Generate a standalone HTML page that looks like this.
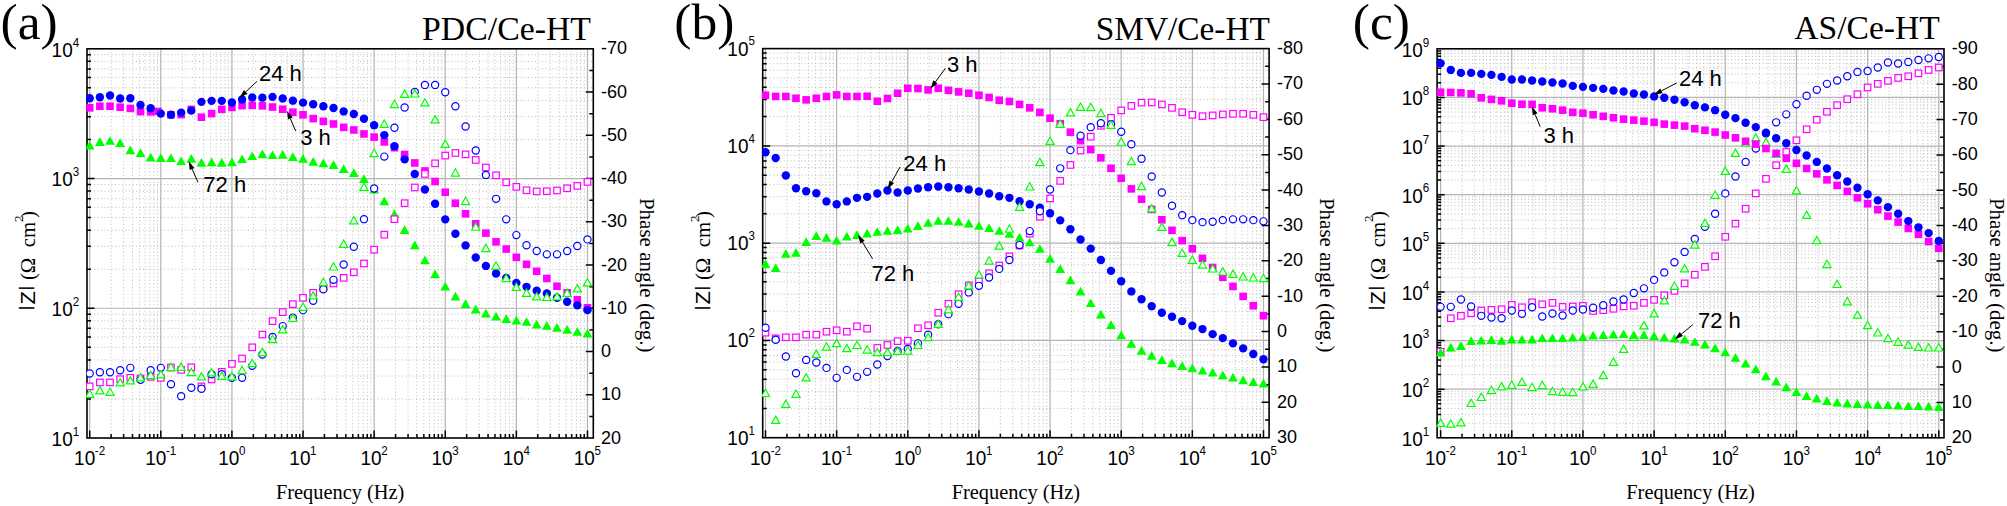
<!DOCTYPE html>
<html><head><meta charset="utf-8"><title>Bode plots</title>
<style>html,body{margin:0;padding:0;background:#fff}svg{display:block}text{white-space:pre}</style>
</head><body>
<svg width="2007" height="506" viewBox="0 0 2007 506">
<rect width="2007" height="506" fill="#fff"/>
<g>
<path d="M111.11 48.8V438M123.63 48.8V438M132.51 48.8V438M139.4 48.8V438M145.03 48.8V438M149.79 48.8V438M153.92 48.8V438M157.56 48.8V438M182.22 48.8V438M194.74 48.8V438M203.62 48.8V438M210.51 48.8V438M216.14 48.8V438M220.9 48.8V438M225.03 48.8V438M228.67 48.8V438M253.33 48.8V438M265.85 48.8V438M274.73 48.8V438M281.62 48.8V438M287.25 48.8V438M292.01 48.8V438M296.14 48.8V438M299.78 48.8V438M324.44 48.8V438M336.96 48.8V438M345.84 48.8V438M352.73 48.8V438M358.36 48.8V438M363.12 48.8V438M367.25 48.8V438M370.89 48.8V438M395.55 48.8V438M408.07 48.8V438M416.95 48.8V438M423.84 48.8V438M429.47 48.8V438M434.23 48.8V438M438.36 48.8V438M442 48.8V438M466.66 48.8V438M479.18 48.8V438M488.06 48.8V438M494.95 48.8V438M500.58 48.8V438M505.34 48.8V438M509.47 48.8V438M513.11 48.8V438M537.77 48.8V438M550.29 48.8V438M559.17 48.8V438M566.06 48.8V438M571.69 48.8V438M576.45 48.8V438M580.58 48.8V438M584.22 48.8V438M87 398.95H593.3M87 376.1H593.3M87 359.89H593.3M87 347.32H593.3M87 337.05H593.3M87 328.36H593.3M87 320.84H593.3M87 314.2H593.3M87 269.21H593.3M87 246.37H593.3M87 230.16H593.3M87 217.59H593.3M87 207.31H593.3M87 198.63H593.3M87 191.11H593.3M87 184.47H593.3M87 139.48H593.3M87 116.63H593.3M87 100.43H593.3M87 87.85H593.3M87 77.58H593.3M87 68.9H593.3M87 61.37H593.3M87 54.74H593.3" stroke="#bcbcbc" stroke-width="1" stroke-dasharray="1 2.5" fill="none"/>
<path d="M89.7 48.8V438M160.81 48.8V438M231.92 48.8V438M303.03 48.8V438M374.14 48.8V438M445.25 48.8V438M516.36 48.8V438M587.47 48.8V438M87 308.27H593.3M87 178.53H593.3" stroke="#b4b4b4" stroke-width="1.2" fill="none"/>
<path d="M89.7 438v-7.5M111.11 438v-4M123.63 438v-4M132.51 438v-4M139.4 438v-4M145.03 438v-4M149.79 438v-4M153.92 438v-4M157.56 438v-4M160.81 438v-7.5M182.22 438v-4M194.74 438v-4M203.62 438v-4M210.51 438v-4M216.14 438v-4M220.9 438v-4M225.03 438v-4M228.67 438v-4M231.92 438v-7.5M253.33 438v-4M265.85 438v-4M274.73 438v-4M281.62 438v-4M287.25 438v-4M292.01 438v-4M296.14 438v-4M299.78 438v-4M303.03 438v-7.5M324.44 438v-4M336.96 438v-4M345.84 438v-4M352.73 438v-4M358.36 438v-4M363.12 438v-4M367.25 438v-4M370.89 438v-4M374.14 438v-7.5M395.55 438v-4M408.07 438v-4M416.95 438v-4M423.84 438v-4M429.47 438v-4M434.23 438v-4M438.36 438v-4M442 438v-4M445.25 438v-7.5M466.66 438v-4M479.18 438v-4M488.06 438v-4M494.95 438v-4M500.58 438v-4M505.34 438v-4M509.47 438v-4M513.11 438v-4M516.36 438v-7.5M537.77 438v-4M550.29 438v-4M559.17 438v-4M566.06 438v-4M571.69 438v-4M576.45 438v-4M580.58 438v-4M584.22 438v-4M587.47 438v-7.5M87 398.95h4M87 376.1h4M87 359.89h4M87 347.32h4M87 337.05h4M87 328.36h4M87 320.84h4M87 314.2h4M87 308.27h7.5M87 269.21h4M87 246.37h4M87 230.16h4M87 217.59h4M87 207.31h4M87 198.63h4M87 191.11h4M87 184.47h4M87 178.53h7.5M87 139.48h4M87 116.63h4M87 100.43h4M87 87.85h4M87 77.58h4M87 68.9h4M87 61.37h4M87 54.74h4M593.3 70.42h-4M593.3 92.04h-7.5M593.3 113.67h-4M593.3 135.29h-7.5M593.3 156.91h-4M593.3 178.53h-7.5M593.3 200.16h-4M593.3 221.78h-7.5M593.3 243.4h-4M593.3 265.02h-7.5M593.3 286.64h-4M593.3 308.27h-7.5M593.3 329.89h-4M593.3 351.51h-7.5M593.3 373.13h-4M593.3 394.76h-7.5M593.3 416.38h-4" stroke="#000" stroke-width="1.5" fill="none"/>
<rect x="87" y="48.8" width="506.3" height="389.2" fill="none" stroke="#000" stroke-width="1.6"/>
<clipPath id="clipa"><rect x="86.2" y="48" width="507.9" height="390.8"/></clipPath>
<g clip-path="url(#clipa)">
<g fill="#ff00ff" stroke="none"><rect x="85.9" y="104.03" width="7.6" height="7.6"/><rect x="96.06" y="102.44" width="7.6" height="7.6"/><rect x="106.22" y="102.44" width="7.6" height="7.6"/><rect x="116.38" y="103.43" width="7.6" height="7.6"/><rect x="126.53" y="104.63" width="7.6" height="7.6"/><rect x="136.69" y="107.82" width="7.6" height="7.6"/><rect x="146.85" y="108.02" width="7.6" height="7.6"/><rect x="154.21" y="107.62" width="7.6" height="7.6"/><rect x="167.17" y="111.01" width="7.6" height="7.6"/><rect x="177.33" y="110.81" width="7.6" height="7.6"/><rect x="187.49" y="105.63" width="7.6" height="7.6"/><rect x="197.64" y="113.4" width="7.6" height="7.6"/><rect x="207.8" y="109.81" width="7.6" height="7.6"/><rect x="217.96" y="105.63" width="7.6" height="7.6"/><rect x="228.12" y="103.63" width="7.6" height="7.6"/><rect x="238.28" y="101.84" width="7.6" height="7.6"/><rect x="248.44" y="101.64" width="7.6" height="7.6"/><rect x="258.6" y="102.04" width="7.6" height="7.6"/><rect x="268.75" y="103.24" width="7.6" height="7.6"/><rect x="278.91" y="105.43" width="7.6" height="7.6"/><rect x="289.07" y="108.42" width="7.6" height="7.6"/><rect x="299.23" y="111.01" width="7.6" height="7.6"/><rect x="309.39" y="114.79" width="7.6" height="7.6"/><rect x="319.55" y="117.59" width="7.6" height="7.6"/><rect x="329.71" y="120.18" width="7.6" height="7.6"/><rect x="339.86" y="123.56" width="7.6" height="7.6"/><rect x="350.02" y="126.16" width="7.6" height="7.6"/><rect x="360.18" y="130.14" width="7.6" height="7.6"/><rect x="370.34" y="133.33" width="7.6" height="7.6"/><rect x="380.5" y="138.11" width="7.6" height="7.6"/><rect x="390.66" y="143.89" width="7.6" height="7.6"/><rect x="400.82" y="150.73" width="7.6" height="7.6"/><rect x="410.97" y="159.15" width="7.6" height="7.6"/><rect x="421.13" y="167.13" width="7.6" height="7.6"/><rect x="431.29" y="177.69" width="7.6" height="7.6"/><rect x="441.45" y="188.45" width="7.6" height="7.6"/><rect x="451.61" y="199.41" width="7.6" height="7.6"/><rect x="461.77" y="209.98" width="7.6" height="7.6"/><rect x="471.93" y="219.94" width="7.6" height="7.6"/><rect x="482.08" y="229.31" width="7.6" height="7.6"/><rect x="492.24" y="238.04" width="7.6" height="7.6"/><rect x="502.4" y="245.21" width="7.6" height="7.6"/><rect x="512.56" y="253.54" width="7.6" height="7.6"/><rect x="522.72" y="260.51" width="7.6" height="7.6"/><rect x="532.88" y="267.49" width="7.6" height="7.6"/><rect x="543.04" y="274.67" width="7.6" height="7.6"/><rect x="553.19" y="282.44" width="7.6" height="7.6"/><rect x="563.35" y="289.02" width="7.6" height="7.6"/><rect x="573.51" y="295.99" width="7.6" height="7.6"/><rect x="583.67" y="303.96" width="7.6" height="7.6"/></g>
<g fill="#0000ff" stroke="none"><circle cx="89.7" cy="98.27" r="4.2"/><circle cx="99.86" cy="97.27" r="4.2"/><circle cx="110.02" cy="95.48" r="4.2"/><circle cx="120.18" cy="98.47" r="4.2"/><circle cx="130.33" cy="98.27" r="4.2"/><circle cx="140.49" cy="105.04" r="4.2"/><circle cx="150.65" cy="108.23" r="4.2"/><circle cx="160.81" cy="113.61" r="4.2"/><circle cx="170.97" cy="114.81" r="4.2"/><circle cx="181.13" cy="112.62" r="4.2"/><circle cx="191.29" cy="110.62" r="4.2"/><circle cx="201.44" cy="101.85" r="4.2"/><circle cx="211.6" cy="100.86" r="4.2"/><circle cx="221.76" cy="100.86" r="4.2"/><circle cx="231.92" cy="102.45" r="4.2"/><circle cx="242.08" cy="99.46" r="4.2"/><circle cx="252.24" cy="97.47" r="4.2"/><circle cx="262.4" cy="97.67" r="4.2"/><circle cx="272.55" cy="96.87" r="4.2"/><circle cx="282.71" cy="98.47" r="4.2"/><circle cx="292.87" cy="100.66" r="4.2"/><circle cx="303.03" cy="102.65" r="4.2"/><circle cx="313.19" cy="104.25" r="4.2"/><circle cx="323.35" cy="106.24" r="4.2"/><circle cx="333.51" cy="108.03" r="4.2"/><circle cx="343.66" cy="111.42" r="4.2"/><circle cx="353.82" cy="114.01" r="4.2"/><circle cx="363.98" cy="118.79" r="4.2"/><circle cx="374.14" cy="125.17" r="4.2"/><circle cx="384.3" cy="135.14" r="4.2"/><circle cx="394.46" cy="146.3" r="4.2"/><circle cx="404.62" cy="159.37" r="4.2"/><circle cx="414.77" cy="173.92" r="4.2"/><circle cx="424.93" cy="189.46" r="4.2"/><circle cx="435.09" cy="203.81" r="4.2"/><circle cx="445.25" cy="219.36" r="4.2"/><circle cx="455.41" cy="233.71" r="4.2"/><circle cx="465.57" cy="245.42" r="4.2"/><circle cx="475.73" cy="257.54" r="4.2"/><circle cx="485.88" cy="265.91" r="4.2"/><circle cx="496.04" cy="273.48" r="4.2"/><circle cx="506.2" cy="277.87" r="4.2"/><circle cx="516.36" cy="282.85" r="4.2"/><circle cx="526.52" cy="286.84" r="4.2"/><circle cx="536.68" cy="290.82" r="4.2"/><circle cx="546.84" cy="293.41" r="4.2"/><circle cx="556.99" cy="297.8" r="4.2"/><circle cx="567.15" cy="301.78" r="4.2"/><circle cx="577.31" cy="305.37" r="4.2"/><circle cx="587.47" cy="310.15" r="4.2"/></g>
<g fill="#00ff00" stroke="none"><path d="M89.7 140.71l4.9 8.7h-9.8z"/><path d="M99.86 137.33l4.9 8.7h-9.8z"/><path d="M110.02 136.13l4.9 8.7h-9.8z"/><path d="M120.18 138.32l4.9 8.7h-9.8z"/><path d="M130.33 145.56l4.9 8.7h-9.8z"/><path d="M140.49 148.25l4.9 8.7h-9.8z"/><path d="M150.65 152.73l4.9 8.7h-9.8z"/><path d="M160.81 153.33l4.9 8.7h-9.8z"/><path d="M170.97 153.39l4.9 8.7h-9.8z"/><path d="M181.13 156.38l4.9 8.7h-9.8z"/><path d="M191.29 153.98l4.9 8.7h-9.8z"/><path d="M201.44 157.97l4.9 8.7h-9.8z"/><path d="M211.6 157.57l4.9 8.7h-9.8z"/><path d="M221.76 157.97l4.9 8.7h-9.8z"/><path d="M231.92 157.57l4.9 8.7h-9.8z"/><path d="M242.08 154.38l4.9 8.7h-9.8z"/><path d="M252.24 151.39l4.9 8.7h-9.8z"/><path d="M262.4 149.6l4.9 8.7h-9.8z"/><path d="M272.55 150.4l4.9 8.7h-9.8z"/><path d="M282.71 150l4.9 8.7h-9.8z"/><path d="M292.87 152.19l4.9 8.7h-9.8z"/><path d="M303.03 153.98l4.9 8.7h-9.8z"/><path d="M313.19 156.97l4.9 8.7h-9.8z"/><path d="M323.35 158.57l4.9 8.7h-9.8z"/><path d="M333.51 160.36l4.9 8.7h-9.8z"/><path d="M343.66 164.35l4.9 8.7h-9.8z"/><path d="M353.82 168.33l4.9 8.7h-9.8z"/><path d="M363.98 174.31l4.9 8.7h-9.8z"/><path d="M374.14 184.88l4.9 8.7h-9.8z"/><path d="M384.3 196.43l4.9 8.7h-9.8z"/><path d="M394.46 209.19l4.9 8.7h-9.8z"/><path d="M404.62 225.33l4.9 8.7h-9.8z"/><path d="M414.77 240.44l4.9 8.7h-9.8z"/><path d="M424.93 255.54l4.9 8.7h-9.8z"/><path d="M435.09 269.49l4.9 8.7h-9.8z"/><path d="M445.25 281.85l4.9 8.7h-9.8z"/><path d="M455.41 291.82l4.9 8.7h-9.8z"/><path d="M465.57 299.19l4.9 8.7h-9.8z"/><path d="M475.73 304.77l4.9 8.7h-9.8z"/><path d="M485.88 308.76l4.9 8.7h-9.8z"/><path d="M496.04 311.75l4.9 8.7h-9.8z"/><path d="M506.2 314.34l4.9 8.7h-9.8z"/><path d="M516.36 315.73l4.9 8.7h-9.8z"/><path d="M526.52 317.13l4.9 8.7h-9.8z"/><path d="M536.68 319.72l4.9 8.7h-9.8z"/><path d="M546.84 321.11l4.9 8.7h-9.8z"/><path d="M556.99 323.11l4.9 8.7h-9.8z"/><path d="M567.15 325.1l4.9 8.7h-9.8z"/><path d="M577.31 327.09l4.9 8.7h-9.8z"/><path d="M587.47 328.69l4.9 8.7h-9.8z"/></g>
<g fill="#fff" stroke="#ff00ff" stroke-width="1.2"><rect x="86.45" y="383.15" width="6.5" height="6.5"/><rect x="96.61" y="379.17" width="6.5" height="6.5"/><rect x="106.77" y="379.17" width="6.5" height="6.5"/><rect x="116.93" y="375.98" width="6.5" height="6.5"/><rect x="127.08" y="374.58" width="6.5" height="6.5"/><rect x="137.24" y="375.18" width="6.5" height="6.5"/><rect x="147.4" y="373.59" width="6.5" height="6.5"/><rect x="157.56" y="374.58" width="6.5" height="6.5"/><rect x="167.72" y="364.22" width="6.5" height="6.5"/><rect x="177.88" y="366.61" width="6.5" height="6.5"/><rect x="188.04" y="364.02" width="6.5" height="6.5"/><rect x="198.19" y="383.15" width="6.5" height="6.5"/><rect x="208.35" y="376.18" width="6.5" height="6.5"/><rect x="218.51" y="368.6" width="6.5" height="6.5"/><rect x="228.67" y="360.63" width="6.5" height="6.5"/><rect x="238.83" y="355.25" width="6.5" height="6.5"/><rect x="248.99" y="344.09" width="6.5" height="6.5"/><rect x="259.15" y="331.28" width="6.5" height="6.5"/><rect x="269.3" y="317.87" width="6.5" height="6.5"/><rect x="279.46" y="308.9" width="6.5" height="6.5"/><rect x="289.62" y="300.93" width="6.5" height="6.5"/><rect x="299.78" y="294.55" width="6.5" height="6.5"/><rect x="309.94" y="289.57" width="6.5" height="6.5"/><rect x="320.1" y="284.58" width="6.5" height="6.5"/><rect x="330.26" y="280.2" width="6.5" height="6.5"/><rect x="340.41" y="274.62" width="6.5" height="6.5"/><rect x="350.57" y="269.04" width="6.5" height="6.5"/><rect x="360.73" y="260.27" width="6.5" height="6.5"/><rect x="370.89" y="246.46" width="6.5" height="6.5"/><rect x="381.05" y="231.45" width="6.5" height="6.5"/><rect x="391.21" y="215.91" width="6.5" height="6.5"/><rect x="401.37" y="199.96" width="6.5" height="6.5"/><rect x="411.52" y="184.22" width="6.5" height="6.5"/><rect x="421.68" y="170.67" width="6.5" height="6.5"/><rect x="431.84" y="160.1" width="6.5" height="6.5"/><rect x="442" y="152.33" width="6.5" height="6.5"/><rect x="452.16" y="149.74" width="6.5" height="6.5"/><rect x="462.32" y="151.13" width="6.5" height="6.5"/><rect x="472.48" y="156.72" width="6.5" height="6.5"/><rect x="482.63" y="164.29" width="6.5" height="6.5"/><rect x="492.79" y="172.06" width="6.5" height="6.5"/><rect x="502.95" y="179.04" width="6.5" height="6.5"/><rect x="513.11" y="183.62" width="6.5" height="6.5"/><rect x="523.27" y="187.01" width="6.5" height="6.5"/><rect x="533.43" y="188.2" width="6.5" height="6.5"/><rect x="543.59" y="188.01" width="6.5" height="6.5"/><rect x="553.74" y="187.21" width="6.5" height="6.5"/><rect x="563.9" y="185.02" width="6.5" height="6.5"/><rect x="574.06" y="182.62" width="6.5" height="6.5"/><rect x="584.22" y="178.64" width="6.5" height="6.5"/></g>
<g fill="#fff" stroke="#0000ff" stroke-width="1.2"><circle cx="89.7" cy="373.45" r="3.6"/><circle cx="99.86" cy="372.25" r="3.6"/><circle cx="110.02" cy="372.25" r="3.6"/><circle cx="120.18" cy="370.26" r="3.6"/><circle cx="130.33" cy="367.87" r="3.6"/><circle cx="140.49" cy="379.83" r="3.6"/><circle cx="150.65" cy="370.26" r="3.6"/><circle cx="160.81" cy="367.87" r="3.6"/><circle cx="170.97" cy="384.21" r="3.6"/><circle cx="181.13" cy="396.17" r="3.6"/><circle cx="191.29" cy="387.8" r="3.6"/><circle cx="201.44" cy="388.79" r="3.6"/><circle cx="211.6" cy="374.25" r="3.6"/><circle cx="221.76" cy="374.25" r="3.6"/><circle cx="231.92" cy="377.83" r="3.6"/><circle cx="242.08" cy="377.83" r="3.6"/><circle cx="252.24" cy="365.87" r="3.6"/><circle cx="262.4" cy="354.51" r="3.6"/><circle cx="272.55" cy="337.02" r="3.6"/><circle cx="282.71" cy="326.1" r="3.6"/><circle cx="292.87" cy="317.73" r="3.6"/><circle cx="303.03" cy="310.15" r="3.6"/><circle cx="313.19" cy="300.79" r="3.6"/><circle cx="323.35" cy="289.23" r="3.6"/><circle cx="333.51" cy="279.86" r="3.6"/><circle cx="343.66" cy="264.51" r="3.6"/><circle cx="353.82" cy="246.82" r="3.6"/><circle cx="363.98" cy="219.16" r="3.6"/><circle cx="374.14" cy="188.47" r="3.6"/><circle cx="384.3" cy="156.62" r="3.6"/><circle cx="394.46" cy="127.76" r="3.6"/><circle cx="404.62" cy="107.43" r="3.6"/><circle cx="414.77" cy="91.89" r="3.6"/><circle cx="424.93" cy="84.91" r="3.6"/><circle cx="435.09" cy="84.91" r="3.6"/><circle cx="445.25" cy="92.29" r="3.6"/><circle cx="455.41" cy="106.24" r="3.6"/><circle cx="465.57" cy="126.57" r="3.6"/><circle cx="475.73" cy="150.54" r="3.6"/><circle cx="485.88" cy="174.91" r="3.6"/><circle cx="496.04" cy="198.83" r="3.6"/><circle cx="506.2" cy="219.36" r="3.6"/><circle cx="516.36" cy="235.1" r="3.6"/><circle cx="526.52" cy="245.22" r="3.6"/><circle cx="536.68" cy="251" r="3.6"/><circle cx="546.84" cy="254.35" r="3.6"/><circle cx="556.99" cy="254.35" r="3.6"/><circle cx="567.15" cy="250.96" r="3.6"/><circle cx="577.31" cy="245.98" r="3.6"/><circle cx="587.47" cy="239.4" r="3.6"/></g>
<g fill="#fff" stroke="#00ff00" stroke-width="1.2"><path d="M89.7 389.99l4.1 7.3h-8.2z"/><path d="M99.86 386.6l4.1 7.3h-8.2z"/><path d="M110.02 388l4.1 7.3h-8.2z"/><path d="M120.18 378.63l4.1 7.3h-8.2z"/><path d="M130.33 376.64l4.1 7.3h-8.2z"/><path d="M140.49 373.65l4.1 7.3h-8.2z"/><path d="M150.65 371.26l4.1 7.3h-8.2z"/><path d="M160.81 370.66l4.1 7.3h-8.2z"/><path d="M170.97 363.29l4.1 7.3h-8.2z"/><path d="M181.13 363.09l4.1 7.3h-8.2z"/><path d="M191.29 368.27l4.1 7.3h-8.2z"/><path d="M201.44 372.65l4.1 7.3h-8.2z"/><path d="M211.6 368.67l4.1 7.3h-8.2z"/><path d="M221.76 372.06l4.1 7.3h-8.2z"/><path d="M231.92 372.65l4.1 7.3h-8.2z"/><path d="M242.08 366.28l4.1 7.3h-8.2z"/><path d="M252.24 359.3l4.1 7.3h-8.2z"/><path d="M262.4 348.34l4.1 7.3h-8.2z"/><path d="M272.55 335.33l4.1 7.3h-8.2z"/><path d="M282.71 325.66l4.1 7.3h-8.2z"/><path d="M292.87 313.94l4.1 7.3h-8.2z"/><path d="M303.03 302.98l4.1 7.3h-8.2z"/><path d="M313.19 291.62l4.1 7.3h-8.2z"/><path d="M323.35 278.27l4.1 7.3h-8.2z"/><path d="M333.51 262.72l4.1 7.3h-8.2z"/><path d="M343.66 240.04l4.1 7.3h-8.2z"/><path d="M353.82 216.57l4.1 7.3h-8.2z"/><path d="M363.98 183.09l4.1 7.3h-8.2z"/><path d="M374.14 149.25l4.1 7.3h-8.2z"/><path d="M384.3 119.99l4.1 7.3h-8.2z"/><path d="M394.46 100.26l4.1 7.3h-8.2z"/><path d="M404.62 90.1l4.1 7.3h-8.2z"/><path d="M414.77 89.7l4.1 7.3h-8.2z"/><path d="M424.93 98.67l4.1 7.3h-8.2z"/><path d="M435.09 115.61l4.1 7.3h-8.2z"/><path d="M445.25 140.12l4.1 7.3h-8.2z"/><path d="M455.41 168.74l4.1 7.3h-8.2z"/><path d="M465.57 197.24l4.1 7.3h-8.2z"/><path d="M475.73 222.95l4.1 7.3h-8.2z"/><path d="M485.88 244.33l4.1 7.3h-8.2z"/><path d="M496.04 261.73l4.1 7.3h-8.2z"/><path d="M506.2 274.28l4.1 7.3h-8.2z"/><path d="M516.36 283.05l4.1 7.3h-8.2z"/><path d="M526.52 289.03l4.1 7.3h-8.2z"/><path d="M536.68 292.62l4.1 7.3h-8.2z"/><path d="M546.84 293.22l4.1 7.3h-8.2z"/><path d="M556.99 292.62l4.1 7.3h-8.2z"/><path d="M567.15 289.03l4.1 7.3h-8.2z"/><path d="M577.31 284.65l4.1 7.3h-8.2z"/><path d="M587.47 278.67l4.1 7.3h-8.2z"/></g>
</g>
<g font-family="'Liberation Sans', Arial, sans-serif" font-size="20" fill="#000"><text transform="translate(89.6 464.9) scale(0.95 1)" text-anchor="middle">10<tspan dx="-0.4" dy="-10.2" font-size="12.2">-2</tspan></text><text transform="translate(160.71 464.9) scale(0.95 1)" text-anchor="middle">10<tspan dx="-0.4" dy="-10.2" font-size="12.2">-1</tspan></text><text transform="translate(231.82 464.9) scale(0.95 1)" text-anchor="middle">10<tspan dx="-0.4" dy="-10.2" font-size="12.2">0</tspan></text><text transform="translate(302.93 464.9) scale(0.95 1)" text-anchor="middle">10<tspan dx="-0.4" dy="-10.2" font-size="12.2">1</tspan></text><text transform="translate(374.04 464.9) scale(0.95 1)" text-anchor="middle">10<tspan dx="-0.4" dy="-10.2" font-size="12.2">2</tspan></text><text transform="translate(445.15 464.9) scale(0.95 1)" text-anchor="middle">10<tspan dx="-0.4" dy="-10.2" font-size="12.2">3</tspan></text><text transform="translate(516.26 464.9) scale(0.95 1)" text-anchor="middle">10<tspan dx="-0.4" dy="-10.2" font-size="12.2">4</tspan></text><text transform="translate(587.37 464.9) scale(0.95 1)" text-anchor="middle">10<tspan dx="-0.4" dy="-10.2" font-size="12.2">5</tspan></text><text transform="translate(79.2 445.9) scale(0.95 1)" text-anchor="end">10<tspan dx="0" dy="-10.2" font-size="12.2">1</tspan></text><text transform="translate(79.2 316.17) scale(0.95 1)" text-anchor="end">10<tspan dx="0" dy="-10.2" font-size="12.2">2</tspan></text><text transform="translate(79.2 186.43) scale(0.95 1)" text-anchor="end">10<tspan dx="0" dy="-10.2" font-size="12.2">3</tspan></text><text transform="translate(79.2 56.7) scale(0.95 1)" text-anchor="end">10<tspan dx="0" dy="-10.2" font-size="12.2">4</tspan></text><text x="601.1" y="54.3" font-size="18">-70</text><text x="601.1" y="97.54" font-size="18">-60</text><text x="601.1" y="140.79" font-size="18">-50</text><text x="601.1" y="184.03" font-size="18">-40</text><text x="601.1" y="227.28" font-size="18">-30</text><text x="601.1" y="270.52" font-size="18">-20</text><text x="601.1" y="313.77" font-size="18">-10</text><text x="601.1" y="357.01" font-size="18">0</text><text x="601.1" y="400.26" font-size="18">10</text><text x="601.1" y="443.5" font-size="18">20</text></g>
<text x="340.15" y="498.8" text-anchor="middle" font-family="'Liberation Serif', 'Times New Roman', serif" font-size="20.4">Frequency (Hz)</text>
<text transform="translate(34.6 260.6) rotate(-90) scale(1.04 1)" text-anchor="middle" font-size="20"><tspan font-family="'Liberation Sans', Arial, sans-serif"><tspan font-size="16" dy="-3.3" stroke="#000" stroke-width="0.35">|</tspan><tspan dy="3.3" dx="1.3" font-size="21">Z</tspan><tspan font-size="16" dy="-3.3" dx="0.8" stroke="#000" stroke-width="0.35">|</tspan><tspan dy="3.3"> </tspan></tspan><tspan font-family="'Liberation Serif', 'Times New Roman', serif">(Ω  cm<tspan dy="-11.5" font-size="12.5">2</tspan><tspan dy="11.5" dx="-2.5">)</tspan></tspan></text>
<text transform="translate(640 275.2) rotate(90)" text-anchor="middle" font-family="'Liberation Serif', 'Times New Roman', serif" font-size="21">Phase angle (deg.)</text>
<text x="0.6" y="39" font-family="'Liberation Serif', 'Times New Roman', serif" font-size="51.5">(a)</text>
<text x="591" y="39.5" text-anchor="end" font-family="'Liberation Serif', 'Times New Roman', serif" font-size="33.8">PDC/Ce-HT</text>
<text x="259" y="80.9" font-family="'Liberation Sans', Arial, sans-serif" font-size="22">24 h</text>
<path d="M257 81.3L245.76 91.86" stroke="#000" stroke-width="1"/>
<path d="M239.57 97.68L243.98 89.97L247.55 93.76z" fill="#000"/>
<text x="300.2" y="145.2" font-family="'Liberation Sans', Arial, sans-serif" font-size="22">3 h</text>
<path d="M295.7 131L290.36 118.59" stroke="#000" stroke-width="1"/>
<path d="M287 110.78L292.75 117.56L287.97 119.62z" fill="#000"/>
<text x="203.3" y="192" font-family="'Liberation Sans', Arial, sans-serif" font-size="22">72 h</text>
<path d="M198 182.3L192.12 168.96" stroke="#000" stroke-width="1"/>
<path d="M188.7 161.18L194.5 167.92L189.74 170.01z" fill="#000"/>
</g>
<g>
<path d="M786.92 48.6V437.7M799.44 48.6V437.7M808.33 48.6V437.7M815.22 48.6V437.7M820.86 48.6V437.7M825.62 48.6V437.7M829.75 48.6V437.7M833.38 48.6V437.7M858.06 48.6V437.7M870.58 48.6V437.7M879.47 48.6V437.7M886.36 48.6V437.7M892 48.6V437.7M896.76 48.6V437.7M900.89 48.6V437.7M904.52 48.6V437.7M929.2 48.6V437.7M941.72 48.6V437.7M950.61 48.6V437.7M957.5 48.6V437.7M963.14 48.6V437.7M967.9 48.6V437.7M972.03 48.6V437.7M975.66 48.6V437.7M1000.34 48.6V437.7M1012.86 48.6V437.7M1021.75 48.6V437.7M1028.64 48.6V437.7M1034.28 48.6V437.7M1039.04 48.6V437.7M1043.17 48.6V437.7M1046.8 48.6V437.7M1071.48 48.6V437.7M1084 48.6V437.7M1092.89 48.6V437.7M1099.78 48.6V437.7M1105.42 48.6V437.7M1110.18 48.6V437.7M1114.31 48.6V437.7M1117.94 48.6V437.7M1142.62 48.6V437.7M1155.14 48.6V437.7M1164.03 48.6V437.7M1170.92 48.6V437.7M1176.56 48.6V437.7M1181.32 48.6V437.7M1185.45 48.6V437.7M1189.08 48.6V437.7M1213.76 48.6V437.7M1226.28 48.6V437.7M1235.17 48.6V437.7M1242.06 48.6V437.7M1247.7 48.6V437.7M1252.46 48.6V437.7M1256.59 48.6V437.7M1260.22 48.6V437.7M762.7 408.42H1269.1M762.7 391.29H1269.1M762.7 379.13H1269.1M762.7 369.71H1269.1M762.7 362.01H1269.1M762.7 355.49H1269.1M762.7 349.85H1269.1M762.7 344.88H1269.1M762.7 311.14H1269.1M762.7 294.01H1269.1M762.7 281.86H1269.1M762.7 272.43H1269.1M762.7 264.73H1269.1M762.7 258.22H1269.1M762.7 252.58H1269.1M762.7 247.6H1269.1M762.7 213.87H1269.1M762.7 196.74H1269.1M762.7 184.58H1269.1M762.7 175.16H1269.1M762.7 167.46H1269.1M762.7 160.94H1269.1M762.7 155.3H1269.1M762.7 150.33H1269.1M762.7 116.59H1269.1M762.7 99.46H1269.1M762.7 87.31H1269.1M762.7 77.88H1269.1M762.7 70.18H1269.1M762.7 63.67H1269.1M762.7 58.03H1269.1M762.7 53.05H1269.1" stroke="#bcbcbc" stroke-width="1" stroke-dasharray="1 2.5" fill="none"/>
<path d="M765.5 48.6V437.7M836.64 48.6V437.7M907.78 48.6V437.7M978.92 48.6V437.7M1050.06 48.6V437.7M1121.2 48.6V437.7M1192.34 48.6V437.7M1263.48 48.6V437.7M762.7 340.43H1269.1M762.7 243.15H1269.1M762.7 145.88H1269.1" stroke="#b4b4b4" stroke-width="1.2" fill="none"/>
<path d="M765.5 437.7v-7.5M786.92 437.7v-4M799.44 437.7v-4M808.33 437.7v-4M815.22 437.7v-4M820.86 437.7v-4M825.62 437.7v-4M829.75 437.7v-4M833.38 437.7v-4M836.64 437.7v-7.5M858.06 437.7v-4M870.58 437.7v-4M879.47 437.7v-4M886.36 437.7v-4M892 437.7v-4M896.76 437.7v-4M900.89 437.7v-4M904.52 437.7v-4M907.78 437.7v-7.5M929.2 437.7v-4M941.72 437.7v-4M950.61 437.7v-4M957.5 437.7v-4M963.14 437.7v-4M967.9 437.7v-4M972.03 437.7v-4M975.66 437.7v-4M978.92 437.7v-7.5M1000.34 437.7v-4M1012.86 437.7v-4M1021.75 437.7v-4M1028.64 437.7v-4M1034.28 437.7v-4M1039.04 437.7v-4M1043.17 437.7v-4M1046.8 437.7v-4M1050.06 437.7v-7.5M1071.48 437.7v-4M1084 437.7v-4M1092.89 437.7v-4M1099.78 437.7v-4M1105.42 437.7v-4M1110.18 437.7v-4M1114.31 437.7v-4M1117.94 437.7v-4M1121.2 437.7v-7.5M1142.62 437.7v-4M1155.14 437.7v-4M1164.03 437.7v-4M1170.92 437.7v-4M1176.56 437.7v-4M1181.32 437.7v-4M1185.45 437.7v-4M1189.08 437.7v-4M1192.34 437.7v-7.5M1213.76 437.7v-4M1226.28 437.7v-4M1235.17 437.7v-4M1242.06 437.7v-4M1247.7 437.7v-4M1252.46 437.7v-4M1256.59 437.7v-4M1260.22 437.7v-4M1263.48 437.7v-7.5M762.7 408.42h4M762.7 391.29h4M762.7 379.13h4M762.7 369.71h4M762.7 362.01h4M762.7 355.49h4M762.7 349.85h4M762.7 344.88h4M762.7 340.43h7.5M762.7 311.14h4M762.7 294.01h4M762.7 281.86h4M762.7 272.43h4M762.7 264.73h4M762.7 258.22h4M762.7 252.58h4M762.7 247.6h4M762.7 243.15h7.5M762.7 213.87h4M762.7 196.74h4M762.7 184.58h4M762.7 175.16h4M762.7 167.46h4M762.7 160.94h4M762.7 155.3h4M762.7 150.33h4M762.7 145.88h7.5M762.7 116.59h4M762.7 99.46h4M762.7 87.31h4M762.7 77.88h4M762.7 70.18h4M762.7 63.67h4M762.7 58.03h4M762.7 53.05h4M1269.1 66.29h-4M1269.1 83.97h-7.5M1269.1 101.66h-4M1269.1 119.35h-7.5M1269.1 137.03h-4M1269.1 154.72h-7.5M1269.1 172.4h-4M1269.1 190.09h-7.5M1269.1 207.78h-4M1269.1 225.46h-7.5M1269.1 243.15h-4M1269.1 260.84h-7.5M1269.1 278.52h-4M1269.1 296.21h-7.5M1269.1 313.9h-4M1269.1 331.58h-7.5M1269.1 349.27h-4M1269.1 366.95h-7.5M1269.1 384.64h-4M1269.1 402.33h-7.5M1269.1 420.01h-4" stroke="#000" stroke-width="1.5" fill="none"/>
<rect x="762.7" y="48.6" width="506.4" height="389.1" fill="none" stroke="#000" stroke-width="1.6"/>
<clipPath id="clipb"><rect x="761.9" y="47.8" width="508" height="390.7"/></clipPath>
<g clip-path="url(#clipb)">
<g fill="#ff00ff" stroke="none"><rect x="761.7" y="91.48" width="7.6" height="7.6"/><rect x="771.86" y="92.67" width="7.6" height="7.6"/><rect x="782.03" y="92.67" width="7.6" height="7.6"/><rect x="792.19" y="94.47" width="7.6" height="7.6"/><rect x="802.35" y="96.06" width="7.6" height="7.6"/><rect x="812.51" y="94.47" width="7.6" height="7.6"/><rect x="822.68" y="92.67" width="7.6" height="7.6"/><rect x="832.84" y="91.08" width="7.6" height="7.6"/><rect x="843" y="92.67" width="7.6" height="7.6"/><rect x="853.17" y="92.67" width="7.6" height="7.6"/><rect x="863.33" y="92.47" width="7.6" height="7.6"/><rect x="873.49" y="97.46" width="7.6" height="7.6"/><rect x="883.65" y="94.67" width="7.6" height="7.6"/><rect x="893.82" y="89.48" width="7.6" height="7.6"/><rect x="903.98" y="84.5" width="7.6" height="7.6"/><rect x="914.14" y="84.7" width="7.6" height="7.6"/><rect x="924.31" y="86.1" width="7.6" height="7.6"/><rect x="934.47" y="84.5" width="7.6" height="7.6"/><rect x="944.63" y="86.49" width="7.6" height="7.6"/><rect x="954.79" y="88.09" width="7.6" height="7.6"/><rect x="964.96" y="89.48" width="7.6" height="7.6"/><rect x="975.12" y="91.48" width="7.6" height="7.6"/><rect x="985.28" y="93.67" width="7.6" height="7.6"/><rect x="995.45" y="96.46" width="7.6" height="7.6"/><rect x="1005.61" y="97.65" width="7.6" height="7.6"/><rect x="1015.77" y="100.64" width="7.6" height="7.6"/><rect x="1025.93" y="104.03" width="7.6" height="7.6"/><rect x="1036.1" y="108.62" width="7.6" height="7.6"/><rect x="1046.26" y="114.4" width="7.6" height="7.6"/><rect x="1056.42" y="119.98" width="7.6" height="7.6"/><rect x="1066.59" y="128.35" width="7.6" height="7.6"/><rect x="1076.75" y="136.92" width="7.6" height="7.6"/><rect x="1086.91" y="145.84" width="7.6" height="7.6"/><rect x="1097.07" y="154.02" width="7.6" height="7.6"/><rect x="1107.24" y="164.54" width="7.6" height="7.6"/><rect x="1117.4" y="174.5" width="7.6" height="7.6"/><rect x="1127.56" y="185.06" width="7.6" height="7.6"/><rect x="1137.73" y="195.43" width="7.6" height="7.6"/><rect x="1147.89" y="205.59" width="7.6" height="7.6"/><rect x="1158.05" y="215.96" width="7.6" height="7.6"/><rect x="1168.21" y="226.52" width="7.6" height="7.6"/><rect x="1178.38" y="236.84" width="7.6" height="7.6"/><rect x="1188.54" y="245.01" width="7.6" height="7.6"/><rect x="1198.7" y="254.54" width="7.6" height="7.6"/><rect x="1208.87" y="263.7" width="7.6" height="7.6"/><rect x="1219.03" y="273.47" width="7.6" height="7.6"/><rect x="1229.19" y="282.64" width="7.6" height="7.6"/><rect x="1239.35" y="292.6" width="7.6" height="7.6"/><rect x="1249.52" y="301.97" width="7.6" height="7.6"/><rect x="1259.68" y="311.93" width="7.6" height="7.6"/></g>
<g fill="#0000ff" stroke="none"><circle cx="765.5" cy="152.23" r="4.2"/><circle cx="775.66" cy="158.01" r="4.2"/><circle cx="785.83" cy="175.51" r="4.2"/><circle cx="795.99" cy="188.27" r="4.2"/><circle cx="806.15" cy="191.26" r="4.2"/><circle cx="816.31" cy="193.25" r="4.2"/><circle cx="826.48" cy="201.42" r="4.2"/><circle cx="836.64" cy="204.21" r="4.2"/><circle cx="846.8" cy="201.42" r="4.2"/><circle cx="856.97" cy="197.83" r="4.2"/><circle cx="867.13" cy="196.84" r="4.2"/><circle cx="877.29" cy="193.45" r="4.2"/><circle cx="887.45" cy="190.46" r="4.2"/><circle cx="897.62" cy="192.45" r="4.2"/><circle cx="907.78" cy="190.46" r="4.2"/><circle cx="917.94" cy="188.47" r="4.2"/><circle cx="928.11" cy="187.27" r="4.2"/><circle cx="938.27" cy="186.47" r="4.2"/><circle cx="948.43" cy="187.27" r="4.2"/><circle cx="958.59" cy="188.27" r="4.2"/><circle cx="968.76" cy="189.46" r="4.2"/><circle cx="978.92" cy="191.45" r="4.2"/><circle cx="989.08" cy="193.45" r="4.2"/><circle cx="999.25" cy="196.24" r="4.2"/><circle cx="1009.41" cy="197.83" r="4.2"/><circle cx="1019.57" cy="201.22" r="4.2"/><circle cx="1029.73" cy="204.21" r="4.2"/><circle cx="1039.9" cy="207.8" r="4.2"/><circle cx="1050.06" cy="213.18" r="4.2"/><circle cx="1060.22" cy="220.35" r="4.2"/><circle cx="1070.39" cy="229.32" r="4.2"/><circle cx="1080.55" cy="239.54" r="4.2"/><circle cx="1090.71" cy="248.61" r="4.2"/><circle cx="1100.87" cy="259.93" r="4.2"/><circle cx="1111.04" cy="270.89" r="4.2"/><circle cx="1121.2" cy="281.26" r="4.2"/><circle cx="1131.36" cy="291.42" r="4.2"/><circle cx="1141.53" cy="299.19" r="4.2"/><circle cx="1151.69" cy="306.17" r="4.2"/><circle cx="1161.85" cy="312.75" r="4.2"/><circle cx="1172.01" cy="316.73" r="4.2"/><circle cx="1182.18" cy="321.12" r="4.2"/><circle cx="1192.34" cy="325.7" r="4.2"/><circle cx="1202.5" cy="329.09" r="4.2"/><circle cx="1212.67" cy="334.14" r="4.2"/><circle cx="1222.83" cy="338.12" r="4.2"/><circle cx="1232.99" cy="343.37" r="4.2"/><circle cx="1243.15" cy="348.35" r="4.2"/><circle cx="1253.32" cy="353.93" r="4.2"/><circle cx="1263.48" cy="359.31" r="4.2"/></g>
<g fill="#00ff00" stroke="none"><path d="M765.5 259.33l4.9 8.7h-9.8z"/><path d="M775.66 263.32l4.9 8.7h-9.8z"/><path d="M785.83 248.97l4.9 8.7h-9.8z"/><path d="M795.99 247.97l4.9 8.7h-9.8z"/><path d="M806.15 237.35l4.9 8.7h-9.8z"/><path d="M816.31 231.31l4.9 8.7h-9.8z"/><path d="M826.48 233.11l4.9 8.7h-9.8z"/><path d="M836.64 235.7l4.9 8.7h-9.8z"/><path d="M846.8 231.71l4.9 8.7h-9.8z"/><path d="M856.97 230.32l4.9 8.7h-9.8z"/><path d="M867.13 228.72l4.9 8.7h-9.8z"/><path d="M877.29 227.13l4.9 8.7h-9.8z"/><path d="M887.45 226.13l4.9 8.7h-9.8z"/><path d="M897.62 225.33l4.9 8.7h-9.8z"/><path d="M907.78 223.74l4.9 8.7h-9.8z"/><path d="M917.94 221.35l4.9 8.7h-9.8z"/><path d="M928.11 218.16l4.9 8.7h-9.8z"/><path d="M938.27 216.17l4.9 8.7h-9.8z"/><path d="M948.43 216.17l4.9 8.7h-9.8z"/><path d="M958.59 217.16l4.9 8.7h-9.8z"/><path d="M968.76 218.76l4.9 8.7h-9.8z"/><path d="M978.92 221.15l4.9 8.7h-9.8z"/><path d="M989.08 223.34l4.9 8.7h-9.8z"/><path d="M999.25 226.13l4.9 8.7h-9.8z"/><path d="M1009.41 229.12l4.9 8.7h-9.8z"/><path d="M1019.57 232.71l4.9 8.7h-9.8z"/><path d="M1029.73 237.65l4.9 8.7h-9.8z"/><path d="M1039.9 244.13l4.9 8.7h-9.8z"/><path d="M1050.06 253.95l4.9 8.7h-9.8z"/><path d="M1060.22 264.31l4.9 8.7h-9.8z"/><path d="M1070.39 275.47l4.9 8.7h-9.8z"/><path d="M1080.55 286.83l4.9 8.7h-9.8z"/><path d="M1090.71 298.39l4.9 8.7h-9.8z"/><path d="M1100.87 309.75l4.9 8.7h-9.8z"/><path d="M1111.04 320.32l4.9 8.7h-9.8z"/><path d="M1121.2 330.55l4.9 8.7h-9.8z"/><path d="M1131.36 338.98l4.9 8.7h-9.8z"/><path d="M1141.53 345.96l4.9 8.7h-9.8z"/><path d="M1151.69 350.94l4.9 8.7h-9.8z"/><path d="M1161.85 355.33l4.9 8.7h-9.8z"/><path d="M1172.01 358.52l4.9 8.7h-9.8z"/><path d="M1182.18 361.31l4.9 8.7h-9.8z"/><path d="M1192.34 363.5l4.9 8.7h-9.8z"/><path d="M1202.5 365.89l4.9 8.7h-9.8z"/><path d="M1212.67 367.88l4.9 8.7h-9.8z"/><path d="M1222.83 370.47l4.9 8.7h-9.8z"/><path d="M1232.99 372.86l4.9 8.7h-9.8z"/><path d="M1243.15 375.46l4.9 8.7h-9.8z"/><path d="M1253.32 377.25l4.9 8.7h-9.8z"/><path d="M1263.48 378.84l4.9 8.7h-9.8z"/></g>
<g fill="#fff" stroke="#ff00ff" stroke-width="1.2"><rect x="762.25" y="329.43" width="6.5" height="6.5"/><rect x="772.41" y="335.07" width="6.5" height="6.5"/><rect x="782.58" y="334.08" width="6.5" height="6.5"/><rect x="792.74" y="334.08" width="6.5" height="6.5"/><rect x="802.9" y="331.39" width="6.5" height="6.5"/><rect x="813.06" y="331.39" width="6.5" height="6.5"/><rect x="823.23" y="328.43" width="6.5" height="6.5"/><rect x="833.39" y="327.03" width="6.5" height="6.5"/><rect x="843.55" y="328.43" width="6.5" height="6.5"/><rect x="853.72" y="323.05" width="6.5" height="6.5"/><rect x="863.88" y="325.44" width="6.5" height="6.5"/><rect x="874.04" y="344.7" width="6.5" height="6.5"/><rect x="884.2" y="341.72" width="6.5" height="6.5"/><rect x="894.37" y="337.93" width="6.5" height="6.5"/><rect x="904.53" y="337.53" width="6.5" height="6.5"/><rect x="914.69" y="325.04" width="6.5" height="6.5"/><rect x="924.86" y="322.05" width="6.5" height="6.5"/><rect x="935.02" y="309.5" width="6.5" height="6.5"/><rect x="945.18" y="300.53" width="6.5" height="6.5"/><rect x="955.34" y="290.96" width="6.5" height="6.5"/><rect x="965.51" y="282.19" width="6.5" height="6.5"/><rect x="975.67" y="278.2" width="6.5" height="6.5"/><rect x="985.83" y="270.03" width="6.5" height="6.5"/><rect x="996" y="262.26" width="6.5" height="6.5"/><rect x="1006.16" y="253.09" width="6.5" height="6.5"/><rect x="1016.32" y="242.33" width="6.5" height="6.5"/><rect x="1026.48" y="230.46" width="6.5" height="6.5"/><rect x="1036.65" y="213.52" width="6.5" height="6.5"/><rect x="1046.81" y="195.18" width="6.5" height="6.5"/><rect x="1056.97" y="177.64" width="6.5" height="6.5"/><rect x="1067.14" y="161.7" width="6.5" height="6.5"/><rect x="1077.3" y="147.29" width="6.5" height="6.5"/><rect x="1087.46" y="133.48" width="6.5" height="6.5"/><rect x="1097.62" y="122.52" width="6.5" height="6.5"/><rect x="1107.79" y="114.55" width="6.5" height="6.5"/><rect x="1117.95" y="107.17" width="6.5" height="6.5"/><rect x="1128.11" y="102.59" width="6.5" height="6.5"/><rect x="1138.28" y="99.4" width="6.5" height="6.5"/><rect x="1148.44" y="99.2" width="6.5" height="6.5"/><rect x="1158.6" y="101.19" width="6.5" height="6.5"/><rect x="1168.76" y="104.58" width="6.5" height="6.5"/><rect x="1178.93" y="108.97" width="6.5" height="6.5"/><rect x="1189.09" y="111.56" width="6.5" height="6.5"/><rect x="1199.25" y="112.95" width="6.5" height="6.5"/><rect x="1209.42" y="112.16" width="6.5" height="6.5"/><rect x="1219.58" y="111.16" width="6.5" height="6.5"/><rect x="1229.74" y="110.56" width="6.5" height="6.5"/><rect x="1239.9" y="110.56" width="6.5" height="6.5"/><rect x="1250.07" y="111.56" width="6.5" height="6.5"/><rect x="1260.23" y="113.95" width="6.5" height="6.5"/></g>
<g fill="#fff" stroke="#0000ff" stroke-width="1.2"><circle cx="765.5" cy="327.69" r="3.6"/><circle cx="775.66" cy="339.82" r="3.6"/><circle cx="785.83" cy="356.52" r="3.6"/><circle cx="795.99" cy="373.27" r="3.6"/><circle cx="806.15" cy="359.91" r="3.6"/><circle cx="816.31" cy="362.5" r="3.6"/><circle cx="826.48" cy="367.88" r="3.6"/><circle cx="836.64" cy="377.85" r="3.6"/><circle cx="846.8" cy="369.88" r="3.6"/><circle cx="856.97" cy="376.85" r="3.6"/><circle cx="867.13" cy="371.87" r="3.6"/><circle cx="877.29" cy="364.5" r="3.6"/><circle cx="887.45" cy="355.93" r="3.6"/><circle cx="897.62" cy="350.94" r="3.6"/><circle cx="907.78" cy="348.95" r="3.6"/><circle cx="917.94" cy="343.37" r="3.6"/><circle cx="928.11" cy="334.64" r="3.6"/><circle cx="938.27" cy="324.3" r="3.6"/><circle cx="948.43" cy="314.14" r="3.6"/><circle cx="958.59" cy="303.78" r="3.6"/><circle cx="968.76" cy="292.42" r="3.6"/><circle cx="978.92" cy="285.84" r="3.6"/><circle cx="989.08" cy="277.47" r="3.6"/><circle cx="999.25" cy="268.9" r="3.6"/><circle cx="1009.41" cy="259.93" r="3.6"/><circle cx="1019.57" cy="245.12" r="3.6"/><circle cx="1029.73" cy="231.12" r="3.6"/><circle cx="1039.9" cy="211.19" r="3.6"/><circle cx="1050.06" cy="189.46" r="3.6"/><circle cx="1060.22" cy="168.34" r="3.6"/><circle cx="1070.39" cy="150.14" r="3.6"/><circle cx="1080.55" cy="135.73" r="3.6"/><circle cx="1090.71" cy="127.16" r="3.6"/><circle cx="1100.87" cy="123.18" r="3.6"/><circle cx="1111.04" cy="124.18" r="3.6"/><circle cx="1121.2" cy="131.75" r="3.6"/><circle cx="1131.36" cy="144.3" r="3.6"/><circle cx="1141.53" cy="158.81" r="3.6"/><circle cx="1151.69" cy="176.51" r="3.6"/><circle cx="1161.85" cy="192.45" r="3.6"/><circle cx="1172.01" cy="205.8" r="3.6"/><circle cx="1182.18" cy="215.17" r="3.6"/><circle cx="1192.34" cy="220.15" r="3.6"/><circle cx="1202.5" cy="222.15" r="3.6"/><circle cx="1212.67" cy="221.75" r="3.6"/><circle cx="1222.83" cy="220.15" r="3.6"/><circle cx="1232.99" cy="219.36" r="3.6"/><circle cx="1243.15" cy="219.36" r="3.6"/><circle cx="1253.32" cy="220.15" r="3.6"/><circle cx="1263.48" cy="221.35" r="3.6"/></g>
<g fill="#fff" stroke="#00ff00" stroke-width="1.2"><path d="M765.5 389.21l4.1 7.3h-8.2z"/><path d="M775.66 416.12l4.1 7.3h-8.2z"/><path d="M785.83 400.17l4.1 7.3h-8.2z"/><path d="M795.99 390.01l4.1 7.3h-8.2z"/><path d="M806.15 373.67l4.1 7.3h-8.2z"/><path d="M816.31 350.15l4.1 7.3h-8.2z"/><path d="M826.48 342.78l4.1 7.3h-8.2z"/><path d="M836.64 339.39l4.1 7.3h-8.2z"/><path d="M846.8 344.37l4.1 7.3h-8.2z"/><path d="M856.97 341.18l4.1 7.3h-8.2z"/><path d="M867.13 345.76l4.1 7.3h-8.2z"/><path d="M877.29 348.36l4.1 7.3h-8.2z"/><path d="M887.45 348.36l4.1 7.3h-8.2z"/><path d="M897.62 347.16l4.1 7.3h-8.2z"/><path d="M907.78 346.76l4.1 7.3h-8.2z"/><path d="M917.94 341.18l4.1 7.3h-8.2z"/><path d="M928.11 333.34l4.1 7.3h-8.2z"/><path d="M938.27 320.12l4.1 7.3h-8.2z"/><path d="M948.43 305.57l4.1 7.3h-8.2z"/><path d="M958.59 293.02l4.1 7.3h-8.2z"/><path d="M968.76 281.66l4.1 7.3h-8.2z"/><path d="M978.92 270.7l4.1 7.3h-8.2z"/><path d="M989.08 256.74l4.1 7.3h-8.2z"/><path d="M999.25 241.84l4.1 7.3h-8.2z"/><path d="M1009.41 224.94l4.1 7.3h-8.2z"/><path d="M1019.57 203.02l4.1 7.3h-8.2z"/><path d="M1029.73 182.69l4.1 7.3h-8.2z"/><path d="M1039.9 158.37l4.1 7.3h-8.2z"/><path d="M1050.06 137.13l4.1 7.3h-8.2z"/><path d="M1060.22 119.99l4.1 7.3h-8.2z"/><path d="M1070.39 108.63l4.1 7.3h-8.2z"/><path d="M1080.55 103.05l4.1 7.3h-8.2z"/><path d="M1090.71 103.25l4.1 7.3h-8.2z"/><path d="M1100.87 109.23l4.1 7.3h-8.2z"/><path d="M1111.04 120.99l4.1 7.3h-8.2z"/><path d="M1121.2 137.93l4.1 7.3h-8.2z"/><path d="M1131.36 157.42l4.1 7.3h-8.2z"/><path d="M1141.53 182.29l4.1 7.3h-8.2z"/><path d="M1151.69 204.61l4.1 7.3h-8.2z"/><path d="M1161.85 223.15l4.1 7.3h-8.2z"/><path d="M1172.01 238.35l4.1 7.3h-8.2z"/><path d="M1182.18 249.17l4.1 7.3h-8.2z"/><path d="M1192.34 256.15l4.1 7.3h-8.2z"/><path d="M1202.5 260.73l4.1 7.3h-8.2z"/><path d="M1212.67 264.72l4.1 7.3h-8.2z"/><path d="M1222.83 267.71l4.1 7.3h-8.2z"/><path d="M1232.99 270.1l4.1 7.3h-8.2z"/><path d="M1243.15 272.69l4.1 7.3h-8.2z"/><path d="M1253.32 273.68l4.1 7.3h-8.2z"/><path d="M1263.48 274.28l4.1 7.3h-8.2z"/></g>
</g>
<g font-family="'Liberation Sans', Arial, sans-serif" font-size="20" fill="#000"><text transform="translate(765.4 464.9) scale(0.95 1)" text-anchor="middle">10<tspan dx="-0.4" dy="-10.2" font-size="12.2">-2</tspan></text><text transform="translate(836.54 464.9) scale(0.95 1)" text-anchor="middle">10<tspan dx="-0.4" dy="-10.2" font-size="12.2">-1</tspan></text><text transform="translate(907.68 464.9) scale(0.95 1)" text-anchor="middle">10<tspan dx="-0.4" dy="-10.2" font-size="12.2">0</tspan></text><text transform="translate(978.82 464.9) scale(0.95 1)" text-anchor="middle">10<tspan dx="-0.4" dy="-10.2" font-size="12.2">1</tspan></text><text transform="translate(1049.96 464.9) scale(0.95 1)" text-anchor="middle">10<tspan dx="-0.4" dy="-10.2" font-size="12.2">2</tspan></text><text transform="translate(1121.1 464.9) scale(0.95 1)" text-anchor="middle">10<tspan dx="-0.4" dy="-10.2" font-size="12.2">3</tspan></text><text transform="translate(1192.24 464.9) scale(0.95 1)" text-anchor="middle">10<tspan dx="-0.4" dy="-10.2" font-size="12.2">4</tspan></text><text transform="translate(1263.38 464.9) scale(0.95 1)" text-anchor="middle">10<tspan dx="-0.4" dy="-10.2" font-size="12.2">5</tspan></text><text transform="translate(754.9 444.7) scale(0.95 1)" text-anchor="end">10<tspan dx="0" dy="-10.2" font-size="12.2">1</tspan></text><text transform="translate(754.9 347.43) scale(0.95 1)" text-anchor="end">10<tspan dx="0" dy="-10.2" font-size="12.2">2</tspan></text><text transform="translate(754.9 250.15) scale(0.95 1)" text-anchor="end">10<tspan dx="0" dy="-10.2" font-size="12.2">3</tspan></text><text transform="translate(754.9 152.88) scale(0.95 1)" text-anchor="end">10<tspan dx="0" dy="-10.2" font-size="12.2">4</tspan></text><text transform="translate(754.9 55.6) scale(0.95 1)" text-anchor="end">10<tspan dx="0" dy="-10.2" font-size="12.2">5</tspan></text><text x="1276.9" y="54.1" font-size="18">-80</text><text x="1276.9" y="89.47" font-size="18">-70</text><text x="1276.9" y="124.85" font-size="18">-60</text><text x="1276.9" y="160.22" font-size="18">-50</text><text x="1276.9" y="195.59" font-size="18">-40</text><text x="1276.9" y="230.96" font-size="18">-30</text><text x="1276.9" y="266.34" font-size="18">-20</text><text x="1276.9" y="301.71" font-size="18">-10</text><text x="1276.9" y="337.08" font-size="18">0</text><text x="1276.9" y="372.45" font-size="18">10</text><text x="1276.9" y="407.83" font-size="18">20</text><text x="1276.9" y="443.2" font-size="18">30</text></g>
<text x="1015.9" y="498.8" text-anchor="middle" font-family="'Liberation Serif', 'Times New Roman', serif" font-size="20.4">Frequency (Hz)</text>
<text transform="translate(710.2 260.6) rotate(-90) scale(1.04 1)" text-anchor="middle" font-size="20"><tspan font-family="'Liberation Sans', Arial, sans-serif"><tspan font-size="16" dy="-3.3" stroke="#000" stroke-width="0.35">|</tspan><tspan dy="3.3" dx="1.3" font-size="21">Z</tspan><tspan font-size="16" dy="-3.3" dx="0.8" stroke="#000" stroke-width="0.35">|</tspan><tspan dy="3.3"> </tspan></tspan><tspan font-family="'Liberation Serif', 'Times New Roman', serif">(Ω  cm<tspan dy="-11.5" font-size="12.5">2</tspan><tspan dy="11.5" dx="-2.5">)</tspan></tspan></text>
<text transform="translate(1320 275.2) rotate(90)" text-anchor="middle" font-family="'Liberation Serif', 'Times New Roman', serif" font-size="21">Phase angle (deg.)</text>
<text x="674.3" y="39.2" font-family="'Liberation Serif', 'Times New Roman', serif" font-size="51.5">(b)</text>
<text x="1270" y="39.5" text-anchor="end" font-family="'Liberation Serif', 'Times New Roman', serif" font-size="33.4">SMV/Ce-HT</text>
<text x="947" y="72.4" font-family="'Liberation Sans', Arial, sans-serif" font-size="22">3 h</text>
<path d="M945.3 68.4L935.44 81.85" stroke="#000" stroke-width="1"/>
<path d="M930.41 88.71L933.34 80.31L937.53 83.39z" fill="#000"/>
<text x="903.3" y="170.5" font-family="'Liberation Sans', Arial, sans-serif" font-size="22">24 h</text>
<path d="M900.1 166.9L891.77 181.76" stroke="#000" stroke-width="1"/>
<path d="M887.61 189.17L889.5 180.49L894.04 183.03z" fill="#000"/>
<text x="871.4" y="281.3" font-family="'Liberation Sans', Arial, sans-serif" font-size="22">72 h</text>
<path d="M872.6 258.9L862.47 242.12" stroke="#000" stroke-width="1"/>
<path d="M858.08 234.84L864.7 240.78L860.25 243.46z" fill="#000"/>
</g>
<g>
<path d="M1462.02 48.8V437.8M1474.56 48.8V437.8M1483.45 48.8V437.8M1490.35 48.8V437.8M1495.98 48.8V437.8M1500.75 48.8V437.8M1504.87 48.8V437.8M1508.51 48.8V437.8M1533.19 48.8V437.8M1545.73 48.8V437.8M1554.62 48.8V437.8M1561.52 48.8V437.8M1567.15 48.8V437.8M1571.92 48.8V437.8M1576.04 48.8V437.8M1579.68 48.8V437.8M1604.36 48.8V437.8M1616.9 48.8V437.8M1625.79 48.8V437.8M1632.69 48.8V437.8M1638.32 48.8V437.8M1643.09 48.8V437.8M1647.21 48.8V437.8M1650.85 48.8V437.8M1675.53 48.8V437.8M1688.07 48.8V437.8M1696.96 48.8V437.8M1703.86 48.8V437.8M1709.49 48.8V437.8M1714.26 48.8V437.8M1718.38 48.8V437.8M1722.02 48.8V437.8M1746.7 48.8V437.8M1759.24 48.8V437.8M1768.13 48.8V437.8M1775.03 48.8V437.8M1780.66 48.8V437.8M1785.43 48.8V437.8M1789.55 48.8V437.8M1793.19 48.8V437.8M1817.87 48.8V437.8M1830.41 48.8V437.8M1839.3 48.8V437.8M1846.2 48.8V437.8M1851.83 48.8V437.8M1856.6 48.8V437.8M1860.72 48.8V437.8M1864.36 48.8V437.8M1889.04 48.8V437.8M1901.58 48.8V437.8M1910.47 48.8V437.8M1917.37 48.8V437.8M1923 48.8V437.8M1927.77 48.8V437.8M1931.89 48.8V437.8M1935.53 48.8V437.8M1437.1 423.16H1944M1437.1 414.6H1944M1437.1 408.52H1944M1437.1 403.81H1944M1437.1 399.96H1944M1437.1 396.71H1944M1437.1 393.89H1944M1437.1 391.4H1944M1437.1 374.54H1944M1437.1 365.97H1944M1437.1 359.9H1944M1437.1 355.19H1944M1437.1 351.34H1944M1437.1 348.08H1944M1437.1 345.26H1944M1437.1 342.77H1944M1437.1 325.91H1944M1437.1 317.35H1944M1437.1 311.27H1944M1437.1 306.56H1944M1437.1 302.71H1944M1437.1 299.46H1944M1437.1 296.64H1944M1437.1 294.15H1944M1437.1 277.29H1944M1437.1 268.72H1944M1437.1 262.65H1944M1437.1 257.94H1944M1437.1 254.09H1944M1437.1 250.83H1944M1437.1 248.01H1944M1437.1 245.52H1944M1437.1 228.66H1944M1437.1 220.1H1944M1437.1 214.02H1944M1437.1 209.31H1944M1437.1 205.46H1944M1437.1 202.21H1944M1437.1 199.39H1944M1437.1 196.9H1944M1437.1 180.04H1944M1437.1 171.47H1944M1437.1 165.4H1944M1437.1 160.69H1944M1437.1 156.84H1944M1437.1 153.58H1944M1437.1 150.76H1944M1437.1 148.27H1944M1437.1 131.41H1944M1437.1 122.85H1944M1437.1 116.77H1944M1437.1 112.06H1944M1437.1 108.21H1944M1437.1 104.96H1944M1437.1 102.14H1944M1437.1 99.65H1944M1437.1 82.79H1944M1437.1 74.22H1944M1437.1 68.15H1944M1437.1 63.44H1944M1437.1 59.59H1944M1437.1 56.33H1944M1437.1 53.51H1944M1437.1 51.02H1944" stroke="#bcbcbc" stroke-width="1" stroke-dasharray="1 2.5" fill="none"/>
<path d="M1440.6 48.8V437.8M1511.77 48.8V437.8M1582.94 48.8V437.8M1654.11 48.8V437.8M1725.28 48.8V437.8M1796.45 48.8V437.8M1867.62 48.8V437.8M1938.79 48.8V437.8M1437.1 389.18H1944M1437.1 340.55H1944M1437.1 291.93H1944M1437.1 243.3H1944M1437.1 194.68H1944M1437.1 146.05H1944M1437.1 97.43H1944" stroke="#b4b4b4" stroke-width="1.2" fill="none"/>
<path d="M1440.6 437.8v-7.5M1462.02 437.8v-4M1474.56 437.8v-4M1483.45 437.8v-4M1490.35 437.8v-4M1495.98 437.8v-4M1500.75 437.8v-4M1504.87 437.8v-4M1508.51 437.8v-4M1511.77 437.8v-7.5M1533.19 437.8v-4M1545.73 437.8v-4M1554.62 437.8v-4M1561.52 437.8v-4M1567.15 437.8v-4M1571.92 437.8v-4M1576.04 437.8v-4M1579.68 437.8v-4M1582.94 437.8v-7.5M1604.36 437.8v-4M1616.9 437.8v-4M1625.79 437.8v-4M1632.69 437.8v-4M1638.32 437.8v-4M1643.09 437.8v-4M1647.21 437.8v-4M1650.85 437.8v-4M1654.11 437.8v-7.5M1675.53 437.8v-4M1688.07 437.8v-4M1696.96 437.8v-4M1703.86 437.8v-4M1709.49 437.8v-4M1714.26 437.8v-4M1718.38 437.8v-4M1722.02 437.8v-4M1725.28 437.8v-7.5M1746.7 437.8v-4M1759.24 437.8v-4M1768.13 437.8v-4M1775.03 437.8v-4M1780.66 437.8v-4M1785.43 437.8v-4M1789.55 437.8v-4M1793.19 437.8v-4M1796.45 437.8v-7.5M1817.87 437.8v-4M1830.41 437.8v-4M1839.3 437.8v-4M1846.2 437.8v-4M1851.83 437.8v-4M1856.6 437.8v-4M1860.72 437.8v-4M1864.36 437.8v-4M1867.62 437.8v-7.5M1889.04 437.8v-4M1901.58 437.8v-4M1910.47 437.8v-4M1917.37 437.8v-4M1923 437.8v-4M1927.77 437.8v-4M1931.89 437.8v-4M1935.53 437.8v-4M1938.79 437.8v-7.5M1437.1 423.16h4M1437.1 414.6h4M1437.1 408.52h4M1437.1 403.81h4M1437.1 399.96h4M1437.1 396.71h4M1437.1 393.89h4M1437.1 391.4h4M1437.1 389.18h7.5M1437.1 374.54h4M1437.1 365.97h4M1437.1 359.9h4M1437.1 355.19h4M1437.1 351.34h4M1437.1 348.08h4M1437.1 345.26h4M1437.1 342.77h4M1437.1 340.55h7.5M1437.1 325.91h4M1437.1 317.35h4M1437.1 311.27h4M1437.1 306.56h4M1437.1 302.71h4M1437.1 299.46h4M1437.1 296.64h4M1437.1 294.15h4M1437.1 291.93h7.5M1437.1 277.29h4M1437.1 268.72h4M1437.1 262.65h4M1437.1 257.94h4M1437.1 254.09h4M1437.1 250.83h4M1437.1 248.01h4M1437.1 245.52h4M1437.1 243.3h7.5M1437.1 228.66h4M1437.1 220.1h4M1437.1 214.02h4M1437.1 209.31h4M1437.1 205.46h4M1437.1 202.21h4M1437.1 199.39h4M1437.1 196.9h4M1437.1 194.68h7.5M1437.1 180.04h4M1437.1 171.47h4M1437.1 165.4h4M1437.1 160.69h4M1437.1 156.84h4M1437.1 153.58h4M1437.1 150.76h4M1437.1 148.27h4M1437.1 146.05h7.5M1437.1 131.41h4M1437.1 122.85h4M1437.1 116.77h4M1437.1 112.06h4M1437.1 108.21h4M1437.1 104.96h4M1437.1 102.14h4M1437.1 99.65h4M1437.1 97.43h7.5M1437.1 82.79h4M1437.1 74.22h4M1437.1 68.15h4M1437.1 63.44h4M1437.1 59.59h4M1437.1 56.33h4M1437.1 53.51h4M1437.1 51.02h4M1944 66.48h-4M1944 84.16h-7.5M1944 101.85h-4M1944 119.53h-7.5M1944 137.21h-4M1944 154.89h-7.5M1944 172.57h-4M1944 190.25h-7.5M1944 207.94h-4M1944 225.62h-7.5M1944 243.3h-4M1944 260.98h-7.5M1944 278.66h-4M1944 296.35h-7.5M1944 314.03h-4M1944 331.71h-7.5M1944 349.39h-4M1944 367.07h-7.5M1944 384.75h-4M1944 402.44h-7.5M1944 420.12h-4" stroke="#000" stroke-width="1.5" fill="none"/>
<rect x="1437.1" y="48.8" width="506.9" height="389" fill="none" stroke="#000" stroke-width="1.6"/>
<clipPath id="clipc"><rect x="1436.3" y="48" width="508.5" height="390.6"/></clipPath>
<g clip-path="url(#clipc)">
<g fill="#fff" stroke="#ff00ff" stroke-width="1.2"><rect x="1437.35" y="348.46" width="6.5" height="6.5"/><rect x="1447.52" y="314.98" width="6.5" height="6.5"/><rect x="1457.68" y="312.59" width="6.5" height="6.5"/><rect x="1467.85" y="310" width="6.5" height="6.5"/><rect x="1478.02" y="307.21" width="6.5" height="6.5"/><rect x="1488.19" y="306.61" width="6.5" height="6.5"/><rect x="1498.35" y="306.01" width="6.5" height="6.5"/><rect x="1508.52" y="301.63" width="6.5" height="6.5"/><rect x="1518.69" y="304.02" width="6.5" height="6.5"/><rect x="1528.85" y="299.04" width="6.5" height="6.5"/><rect x="1539.02" y="301.03" width="6.5" height="6.5"/><rect x="1549.19" y="299.63" width="6.5" height="6.5"/><rect x="1559.36" y="303.62" width="6.5" height="6.5"/><rect x="1569.52" y="303.22" width="6.5" height="6.5"/><rect x="1579.69" y="302.62" width="6.5" height="6.5"/><rect x="1589.86" y="307.73" width="6.5" height="6.5"/><rect x="1600.02" y="306.93" width="6.5" height="6.5"/><rect x="1610.19" y="305.54" width="6.5" height="6.5"/><rect x="1620.36" y="303.14" width="6.5" height="6.5"/><rect x="1630.53" y="302.55" width="6.5" height="6.5"/><rect x="1640.69" y="299.56" width="6.5" height="6.5"/><rect x="1650.86" y="296.57" width="6.5" height="6.5"/><rect x="1661.03" y="292.08" width="6.5" height="6.5"/><rect x="1671.19" y="287.6" width="6.5" height="6.5"/><rect x="1681.36" y="280.12" width="6.5" height="6.5"/><rect x="1691.53" y="271.45" width="6.5" height="6.5"/><rect x="1701.7" y="263.6" width="6.5" height="6.5"/><rect x="1711.86" y="253.04" width="6.5" height="6.5"/><rect x="1722.03" y="233.55" width="6.5" height="6.5"/><rect x="1732.2" y="220.4" width="6.5" height="6.5"/><rect x="1742.36" y="205.49" width="6.5" height="6.5"/><rect x="1752.53" y="190.15" width="6.5" height="6.5"/><rect x="1762.7" y="175.6" width="6.5" height="6.5"/><rect x="1772.87" y="162.04" width="6.5" height="6.5"/><rect x="1783.03" y="148.69" width="6.5" height="6.5"/><rect x="1793.2" y="137.07" width="6.5" height="6.5"/><rect x="1803.37" y="126.05" width="6.5" height="6.5"/><rect x="1813.53" y="116.49" width="6.5" height="6.5"/><rect x="1823.7" y="108.52" width="6.5" height="6.5"/><rect x="1833.87" y="101.94" width="6.5" height="6.5"/><rect x="1844.04" y="95.96" width="6.5" height="6.5"/><rect x="1854.2" y="90.98" width="6.5" height="6.5"/><rect x="1864.37" y="84.2" width="6.5" height="6.5"/><rect x="1874.54" y="80.61" width="6.5" height="6.5"/><rect x="1884.7" y="77.62" width="6.5" height="6.5"/><rect x="1894.87" y="74.63" width="6.5" height="6.5"/><rect x="1905.04" y="73.04" width="6.5" height="6.5"/><rect x="1915.21" y="70.05" width="6.5" height="6.5"/><rect x="1925.37" y="66.66" width="6.5" height="6.5"/><rect x="1935.54" y="64.27" width="6.5" height="6.5"/></g>
<g fill="#fff" stroke="#0000ff" stroke-width="1.2"><circle cx="1440.6" cy="306.87" r="3.6"/><circle cx="1450.77" cy="306.87" r="3.6"/><circle cx="1460.93" cy="299.5" r="3.6"/><circle cx="1471.1" cy="306.47" r="3.6"/><circle cx="1481.27" cy="315.84" r="3.6"/><circle cx="1491.44" cy="317.43" r="3.6"/><circle cx="1501.6" cy="318.23" r="3.6"/><circle cx="1511.77" cy="310.46" r="3.6"/><circle cx="1521.94" cy="313.85" r="3.6"/><circle cx="1532.1" cy="307.27" r="3.6"/><circle cx="1542.27" cy="316.44" r="3.6"/><circle cx="1552.44" cy="313.45" r="3.6"/><circle cx="1562.61" cy="315.44" r="3.6"/><circle cx="1572.77" cy="310.46" r="3.6"/><circle cx="1582.94" cy="309.46" r="3.6"/><circle cx="1593.11" cy="307.79" r="3.6"/><circle cx="1603.27" cy="305.3" r="3.6"/><circle cx="1613.44" cy="301.41" r="3.6"/><circle cx="1623.61" cy="299.42" r="3.6"/><circle cx="1633.78" cy="293.04" r="3.6"/><circle cx="1643.94" cy="288.36" r="3.6"/><circle cx="1654.11" cy="279.89" r="3.6"/><circle cx="1664.28" cy="272.41" r="3.6"/><circle cx="1674.44" cy="262.27" r="3.6"/><circle cx="1684.61" cy="251.91" r="3.6"/><circle cx="1694.78" cy="238.95" r="3.6"/><circle cx="1704.95" cy="226.84" r="3.6"/><circle cx="1715.11" cy="213.72" r="3.6"/><circle cx="1725.28" cy="193.4" r="3.6"/><circle cx="1735.45" cy="176.45" r="3.6"/><circle cx="1745.61" cy="161.91" r="3.6"/><circle cx="1755.78" cy="148.55" r="3.6"/><circle cx="1765.95" cy="133.41" r="3.6"/><circle cx="1776.12" cy="122.33" r="3.6"/><circle cx="1786.28" cy="114.36" r="3.6"/><circle cx="1796.45" cy="104.19" r="3.6"/><circle cx="1806.62" cy="95.82" r="3.6"/><circle cx="1816.78" cy="89.84" r="3.6"/><circle cx="1826.95" cy="83.86" r="3.6"/><circle cx="1837.12" cy="80.48" r="3.6"/><circle cx="1847.29" cy="76.29" r="3.6"/><circle cx="1857.45" cy="71.91" r="3.6"/><circle cx="1867.62" cy="70.91" r="3.6"/><circle cx="1877.79" cy="67.52" r="3.6"/><circle cx="1887.95" cy="62.54" r="3.6"/><circle cx="1898.12" cy="63.54" r="3.6"/><circle cx="1908.29" cy="61.94" r="3.6"/><circle cx="1918.46" cy="59.95" r="3.6"/><circle cx="1928.62" cy="58.35" r="3.6"/><circle cx="1938.79" cy="56.96" r="3.6"/></g>
<g fill="#fff" stroke="#00ff00" stroke-width="1.2"><path d="M1440.6 419.13l4.1 7.3h-8.2z"/><path d="M1450.77 419.92l4.1 7.3h-8.2z"/><path d="M1460.93 418.53l4.1 7.3h-8.2z"/><path d="M1471.1 399.2l4.1 7.3h-8.2z"/><path d="M1481.27 393.22l4.1 7.3h-8.2z"/><path d="M1491.44 386.24l4.1 7.3h-8.2z"/><path d="M1501.6 382.65l4.1 7.3h-8.2z"/><path d="M1511.77 381.06l4.1 7.3h-8.2z"/><path d="M1521.94 378.07l4.1 7.3h-8.2z"/><path d="M1532.1 383.25l4.1 7.3h-8.2z"/><path d="M1542.27 381.26l4.1 7.3h-8.2z"/><path d="M1552.44 387.24l4.1 7.3h-8.2z"/><path d="M1562.61 388.03l4.1 7.3h-8.2z"/><path d="M1572.77 388.23l4.1 7.3h-8.2z"/><path d="M1582.94 382.65l4.1 7.3h-8.2z"/><path d="M1593.11 380.06l4.1 7.3h-8.2z"/><path d="M1603.27 371.29l4.1 7.3h-8.2z"/><path d="M1613.44 358.02l4.1 7.3h-8.2z"/><path d="M1623.61 345.16l4.1 7.3h-8.2z"/><path d="M1633.78 333.18l4.1 7.3h-8.2z"/><path d="M1643.94 321.62l4.1 7.3h-8.2z"/><path d="M1654.11 309.59l4.1 7.3h-8.2z"/><path d="M1664.28 296.63l4.1 7.3h-8.2z"/><path d="M1674.44 281.98l4.1 7.3h-8.2z"/><path d="M1684.61 264.54l4.1 7.3h-8.2z"/><path d="M1694.78 240.75l4.1 7.3h-8.2z"/><path d="M1704.95 219.17l4.1 7.3h-8.2z"/><path d="M1715.11 191.01l4.1 7.3h-8.2z"/><path d="M1725.28 167.09l4.1 7.3h-8.2z"/><path d="M1735.45 149.15l4.1 7.3h-8.2z"/><path d="M1745.61 138.79l4.1 7.3h-8.2z"/><path d="M1755.78 133.81l4.1 7.3h-8.2z"/><path d="M1765.95 138.39l4.1 7.3h-8.2z"/><path d="M1776.12 149.75l4.1 7.3h-8.2z"/><path d="M1786.28 165.1l4.1 7.3h-8.2z"/><path d="M1796.45 186.62l4.1 7.3h-8.2z"/><path d="M1806.62 211.14l4.1 7.3h-8.2z"/><path d="M1816.78 236.36l4.1 7.3h-8.2z"/><path d="M1826.95 260.28l4.1 7.3h-8.2z"/><path d="M1837.12 280.21l4.1 7.3h-8.2z"/><path d="M1847.29 297.55l4.1 7.3h-8.2z"/><path d="M1857.45 310.9l4.1 7.3h-8.2z"/><path d="M1867.62 321.42l4.1 7.3h-8.2z"/><path d="M1877.79 328.72l4.1 7.3h-8.2z"/><path d="M1887.95 334.42l4.1 7.3h-8.2z"/><path d="M1898.12 338.02l4.1 7.3h-8.2z"/><path d="M1908.29 340.92l4.1 7.3h-8.2z"/><path d="M1918.46 343.12l4.1 7.3h-8.2z"/><path d="M1928.62 343.72l4.1 7.3h-8.2z"/><path d="M1938.79 343.72l4.1 7.3h-8.2z"/></g>
<g fill="#ff00ff" stroke="none"><rect x="1436.8" y="88.43" width="7.6" height="7.6"/><rect x="1446.97" y="88.63" width="7.6" height="7.6"/><rect x="1457.13" y="89.03" width="7.6" height="7.6"/><rect x="1467.3" y="90.03" width="7.6" height="7.6"/><rect x="1477.47" y="94.02" width="7.6" height="7.6"/><rect x="1487.64" y="95.61" width="7.6" height="7.6"/><rect x="1497.8" y="97" width="7.6" height="7.6"/><rect x="1507.97" y="99.4" width="7.6" height="7.6"/><rect x="1518.14" y="100.39" width="7.6" height="7.6"/><rect x="1528.3" y="100.59" width="7.6" height="7.6"/><rect x="1538.47" y="103.98" width="7.6" height="7.6"/><rect x="1548.64" y="104.98" width="7.6" height="7.6"/><rect x="1558.81" y="106.37" width="7.6" height="7.6"/><rect x="1568.97" y="108.56" width="7.6" height="7.6"/><rect x="1579.14" y="109.36" width="7.6" height="7.6"/><rect x="1589.31" y="110.96" width="7.6" height="7.6"/><rect x="1599.47" y="112.55" width="7.6" height="7.6"/><rect x="1609.64" y="113.95" width="7.6" height="7.6"/><rect x="1619.81" y="115.34" width="7.6" height="7.6"/><rect x="1629.98" y="116.34" width="7.6" height="7.6"/><rect x="1640.14" y="117.33" width="7.6" height="7.6"/><rect x="1650.31" y="118.53" width="7.6" height="7.6"/><rect x="1660.48" y="120.32" width="7.6" height="7.6"/><rect x="1670.64" y="121.32" width="7.6" height="7.6"/><rect x="1680.81" y="122.32" width="7.6" height="7.6"/><rect x="1690.98" y="124.91" width="7.6" height="7.6"/><rect x="1701.15" y="126.5" width="7.6" height="7.6"/><rect x="1711.31" y="128.3" width="7.6" height="7.6"/><rect x="1721.48" y="131.24" width="7.6" height="7.6"/><rect x="1731.65" y="134.03" width="7.6" height="7.6"/><rect x="1741.81" y="137.52" width="7.6" height="7.6"/><rect x="1751.98" y="140.31" width="7.6" height="7.6"/><rect x="1762.15" y="144.75" width="7.6" height="7.6"/><rect x="1772.32" y="149.54" width="7.6" height="7.6"/><rect x="1782.48" y="154.52" width="7.6" height="7.6"/><rect x="1792.65" y="159.5" width="7.6" height="7.6"/><rect x="1802.82" y="164.68" width="7.6" height="7.6"/><rect x="1812.98" y="170.06" width="7.6" height="7.6"/><rect x="1823.15" y="176.04" width="7.6" height="7.6"/><rect x="1833.32" y="181.62" width="7.6" height="7.6"/><rect x="1843.49" y="187.6" width="7.6" height="7.6"/><rect x="1853.65" y="193.98" width="7.6" height="7.6"/><rect x="1863.82" y="199.96" width="7.6" height="7.6"/><rect x="1873.99" y="205.94" width="7.6" height="7.6"/><rect x="1884.15" y="212.32" width="7.6" height="7.6"/><rect x="1894.32" y="218.3" width="7.6" height="7.6"/><rect x="1904.49" y="224.63" width="7.6" height="7.6"/><rect x="1914.66" y="230.51" width="7.6" height="7.6"/><rect x="1924.82" y="237.74" width="7.6" height="7.6"/><rect x="1934.99" y="244.52" width="7.6" height="7.6"/></g>
<g fill="#0000ff" stroke="none"><circle cx="1440.6" cy="63.34" r="4.2"/><circle cx="1450.77" cy="69.91" r="4.2"/><circle cx="1460.93" cy="72.9" r="4.2"/><circle cx="1471.1" cy="72.9" r="4.2"/><circle cx="1481.27" cy="73.9" r="4.2"/><circle cx="1491.44" cy="74.9" r="4.2"/><circle cx="1501.6" cy="76.89" r="4.2"/><circle cx="1511.77" cy="79.48" r="4.2"/><circle cx="1521.94" cy="79.48" r="4.2"/><circle cx="1532.1" cy="80.48" r="4.2"/><circle cx="1542.27" cy="81.47" r="4.2"/><circle cx="1552.44" cy="82.47" r="4.2"/><circle cx="1562.61" cy="83.47" r="4.2"/><circle cx="1572.77" cy="85.86" r="4.2"/><circle cx="1582.94" cy="86.85" r="4.2"/><circle cx="1593.11" cy="87.85" r="4.2"/><circle cx="1603.27" cy="88.85" r="4.2"/><circle cx="1613.44" cy="90.44" r="4.2"/><circle cx="1623.61" cy="91.44" r="4.2"/><circle cx="1633.78" cy="93.43" r="4.2"/><circle cx="1643.94" cy="94.43" r="4.2"/><circle cx="1654.11" cy="96.42" r="4.2"/><circle cx="1664.28" cy="97.82" r="4.2"/><circle cx="1674.44" cy="99.81" r="4.2"/><circle cx="1684.61" cy="102.2" r="4.2"/><circle cx="1694.78" cy="105.19" r="4.2"/><circle cx="1704.95" cy="107.38" r="4.2"/><circle cx="1715.11" cy="110.17" r="4.2"/><circle cx="1725.28" cy="114.76" r="4.2"/><circle cx="1735.45" cy="118.14" r="4.2"/><circle cx="1745.61" cy="122.73" r="4.2"/><circle cx="1755.78" cy="127.11" r="4.2"/><circle cx="1765.95" cy="132.69" r="4.2"/><circle cx="1776.12" cy="138.23" r="4.2"/><circle cx="1786.28" cy="143.31" r="4.2"/><circle cx="1796.45" cy="149.95" r="4.2"/><circle cx="1806.62" cy="155.53" r="4.2"/><circle cx="1816.78" cy="161.91" r="4.2"/><circle cx="1826.95" cy="168.48" r="4.2"/><circle cx="1837.12" cy="175.26" r="4.2"/><circle cx="1847.29" cy="181.44" r="4.2"/><circle cx="1857.45" cy="187.82" r="4.2"/><circle cx="1867.62" cy="194.19" r="4.2"/><circle cx="1877.79" cy="200.37" r="4.2"/><circle cx="1887.95" cy="207.15" r="4.2"/><circle cx="1898.12" cy="213.72" r="4.2"/><circle cx="1908.29" cy="221.1" r="4.2"/><circle cx="1918.46" cy="227.33" r="4.2"/><circle cx="1928.62" cy="233.11" r="4.2"/><circle cx="1938.79" cy="240.94" r="4.2"/></g>
<g fill="#00ff00" stroke="none"><path d="M1440.6 347.73l4.9 8.7h-9.8z"/><path d="M1450.77 342.74l4.9 8.7h-9.8z"/><path d="M1460.93 341.35l4.9 8.7h-9.8z"/><path d="M1471.1 336.37l4.9 8.7h-9.8z"/><path d="M1481.27 335.77l4.9 8.7h-9.8z"/><path d="M1491.44 335.37l4.9 8.7h-9.8z"/><path d="M1501.6 336.17l4.9 8.7h-9.8z"/><path d="M1511.77 334.77l4.9 8.7h-9.8z"/><path d="M1521.94 334.77l4.9 8.7h-9.8z"/><path d="M1532.1 334.77l4.9 8.7h-9.8z"/><path d="M1542.27 333.38l4.9 8.7h-9.8z"/><path d="M1552.44 333.38l4.9 8.7h-9.8z"/><path d="M1562.61 333.38l4.9 8.7h-9.8z"/><path d="M1572.77 332.78l4.9 8.7h-9.8z"/><path d="M1582.94 332.18l4.9 8.7h-9.8z"/><path d="M1593.11 330.78l4.9 8.7h-9.8z"/><path d="M1603.27 330.19l4.9 8.7h-9.8z"/><path d="M1613.44 329.79l4.9 8.7h-9.8z"/><path d="M1623.61 329.39l4.9 8.7h-9.8z"/><path d="M1633.78 330.19l4.9 8.7h-9.8z"/><path d="M1643.94 330.19l4.9 8.7h-9.8z"/><path d="M1654.11 331.38l4.9 8.7h-9.8z"/><path d="M1664.28 332.78l4.9 8.7h-9.8z"/><path d="M1674.44 333.77l4.9 8.7h-9.8z"/><path d="M1684.61 334.77l4.9 8.7h-9.8z"/><path d="M1694.78 337.16l4.9 8.7h-9.8z"/><path d="M1704.95 339.75l4.9 8.7h-9.8z"/><path d="M1715.11 343.46l4.9 8.7h-9.8z"/><path d="M1725.28 347.65l4.9 8.7h-9.8z"/><path d="M1735.45 352.93l4.9 8.7h-9.8z"/><path d="M1745.61 358.81l4.9 8.7h-9.8z"/><path d="M1755.78 364.59l4.9 8.7h-9.8z"/><path d="M1765.95 371.49l4.9 8.7h-9.8z"/><path d="M1776.12 376.87l4.9 8.7h-9.8z"/><path d="M1786.28 382.45l4.9 8.7h-9.8z"/><path d="M1796.45 387.23l4.9 8.7h-9.8z"/><path d="M1806.62 391.22l4.9 8.7h-9.8z"/><path d="M1816.78 393.81l4.9 8.7h-9.8z"/><path d="M1826.95 396.2l4.9 8.7h-9.8z"/><path d="M1837.12 397.8l4.9 8.7h-9.8z"/><path d="M1847.29 398.79l4.9 8.7h-9.8z"/><path d="M1857.45 399.39l4.9 8.7h-9.8z"/><path d="M1867.62 399.79l4.9 8.7h-9.8z"/><path d="M1877.79 400.19l4.9 8.7h-9.8z"/><path d="M1887.95 400.39l4.9 8.7h-9.8z"/><path d="M1898.12 400.78l4.9 8.7h-9.8z"/><path d="M1908.29 401.38l4.9 8.7h-9.8z"/><path d="M1918.46 401.38l4.9 8.7h-9.8z"/><path d="M1928.62 401.78l4.9 8.7h-9.8z"/><path d="M1938.79 402.18l4.9 8.7h-9.8z"/></g>
</g>
<g font-family="'Liberation Sans', Arial, sans-serif" font-size="20" fill="#000"><text transform="translate(1440.5 464.9) scale(0.95 1)" text-anchor="middle">10<tspan dx="-0.4" dy="-10.2" font-size="12.2">-2</tspan></text><text transform="translate(1511.67 464.9) scale(0.95 1)" text-anchor="middle">10<tspan dx="-0.4" dy="-10.2" font-size="12.2">-1</tspan></text><text transform="translate(1582.84 464.9) scale(0.95 1)" text-anchor="middle">10<tspan dx="-0.4" dy="-10.2" font-size="12.2">0</tspan></text><text transform="translate(1654.01 464.9) scale(0.95 1)" text-anchor="middle">10<tspan dx="-0.4" dy="-10.2" font-size="12.2">1</tspan></text><text transform="translate(1725.18 464.9) scale(0.95 1)" text-anchor="middle">10<tspan dx="-0.4" dy="-10.2" font-size="12.2">2</tspan></text><text transform="translate(1796.35 464.9) scale(0.95 1)" text-anchor="middle">10<tspan dx="-0.4" dy="-10.2" font-size="12.2">3</tspan></text><text transform="translate(1867.52 464.9) scale(0.95 1)" text-anchor="middle">10<tspan dx="-0.4" dy="-10.2" font-size="12.2">4</tspan></text><text transform="translate(1938.69 464.9) scale(0.95 1)" text-anchor="middle">10<tspan dx="-0.4" dy="-10.2" font-size="12.2">5</tspan></text><text transform="translate(1429.3 445.7) scale(0.95 1)" text-anchor="end">10<tspan dx="0" dy="-10.2" font-size="12.2">1</tspan></text><text transform="translate(1429.3 397.07) scale(0.95 1)" text-anchor="end">10<tspan dx="0" dy="-10.2" font-size="12.2">2</tspan></text><text transform="translate(1429.3 348.45) scale(0.95 1)" text-anchor="end">10<tspan dx="0" dy="-10.2" font-size="12.2">3</tspan></text><text transform="translate(1429.3 299.82) scale(0.95 1)" text-anchor="end">10<tspan dx="0" dy="-10.2" font-size="12.2">4</tspan></text><text transform="translate(1429.3 251.2) scale(0.95 1)" text-anchor="end">10<tspan dx="0" dy="-10.2" font-size="12.2">5</tspan></text><text transform="translate(1429.3 202.58) scale(0.95 1)" text-anchor="end">10<tspan dx="0" dy="-10.2" font-size="12.2">6</tspan></text><text transform="translate(1429.3 153.95) scale(0.95 1)" text-anchor="end">10<tspan dx="0" dy="-10.2" font-size="12.2">7</tspan></text><text transform="translate(1429.3 105.33) scale(0.95 1)" text-anchor="end">10<tspan dx="0" dy="-10.2" font-size="12.2">8</tspan></text><text transform="translate(1429.3 56.7) scale(0.95 1)" text-anchor="end">10<tspan dx="0" dy="-10.2" font-size="12.2">9</tspan></text><text x="1951.8" y="54.3" font-size="18">-90</text><text x="1951.8" y="89.66" font-size="18">-80</text><text x="1951.8" y="125.03" font-size="18">-70</text><text x="1951.8" y="160.39" font-size="18">-60</text><text x="1951.8" y="195.75" font-size="18">-50</text><text x="1951.8" y="231.12" font-size="18">-40</text><text x="1951.8" y="266.48" font-size="18">-30</text><text x="1951.8" y="301.85" font-size="18">-20</text><text x="1951.8" y="337.21" font-size="18">-10</text><text x="1951.8" y="372.57" font-size="18">0</text><text x="1951.8" y="407.94" font-size="18">10</text><text x="1951.8" y="443.3" font-size="18">20</text></g>
<text x="1690.55" y="498.8" text-anchor="middle" font-family="'Liberation Serif', 'Times New Roman', serif" font-size="20.4">Frequency (Hz)</text>
<text transform="translate(1384.7 260.6) rotate(-90) scale(1.04 1)" text-anchor="middle" font-size="20"><tspan font-family="'Liberation Sans', Arial, sans-serif"><tspan font-size="16" dy="-3.3" stroke="#000" stroke-width="0.35">|</tspan><tspan dy="3.3" dx="1.3" font-size="21">Z</tspan><tspan font-size="16" dy="-3.3" dx="0.8" stroke="#000" stroke-width="0.35">|</tspan><tspan dy="3.3"> </tspan></tspan><tspan font-family="'Liberation Serif', 'Times New Roman', serif">(Ω  cm<tspan dy="-11.5" font-size="12.5">2</tspan><tspan dy="11.5" dx="-2.5">)</tspan></tspan></text>
<text transform="translate(1990.1 275.2) rotate(90)" text-anchor="middle" font-family="'Liberation Serif', 'Times New Roman', serif" font-size="21">Phase angle (deg.)</text>
<text x="1352.8" y="39.3" font-family="'Liberation Serif', 'Times New Roman', serif" font-size="51.5">(c)</text>
<text x="1939.8" y="39" text-anchor="end" font-family="'Liberation Serif', 'Times New Roman', serif" font-size="33.6">AS/Ce-HT</text>
<text x="1678.9" y="85.9" font-family="'Liberation Sans', Arial, sans-serif" font-size="22">24 h</text>
<path d="M1676.7 82.9L1661.44 90.91" stroke="#000" stroke-width="1"/>
<path d="M1653.91 94.86L1660.23 88.61L1662.65 93.22z" fill="#000"/>
<text x="1543.4" y="142.7" font-family="'Liberation Sans', Arial, sans-serif" font-size="22">3 h</text>
<path d="M1540.2 126.7L1535.14 114.34" stroke="#000" stroke-width="1"/>
<path d="M1531.92 106.47L1537.55 113.36L1532.73 115.33z" fill="#000"/>
<text x="1697.9" y="327.8" font-family="'Liberation Sans', Arial, sans-serif" font-size="22">72 h</text>
<path d="M1692.7 324.8L1681.32 334.07" stroke="#000" stroke-width="1"/>
<path d="M1674.72 339.43L1679.68 332.05L1682.96 336.08z" fill="#000"/>
</g>
</svg>
</body></html>
